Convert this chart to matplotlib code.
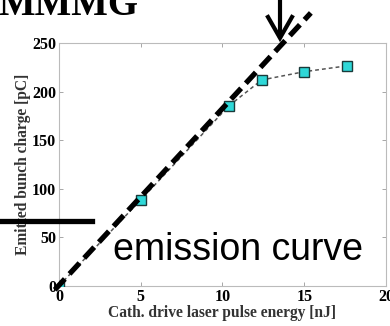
import numpy as np
import matplotlib.pyplot as plt

# measured points
energy = [0, 5.0, 10.4, 12.4, 15.0, 17.6]
charge = [0, 88.5, 185.5, 212, 220.5, 226.5]

# linear emission guide (extends past the frame)
guide_x = [-0.25, 15.4]
guide_y = [-4, 281]

xticks = [0, 5, 10, 15, 20]
yticks = [0, 50, 100, 150, 200, 250]

plt.rcParams['font.family'] = ['Liberation Serif', 'DejaVu Serif']

fig = plt.figure(figsize=(3.9, 3.26), dpi=100)
ax = fig.add_axes([0.151, 0.123, 0.839, 0.745])

ax.plot(energy, charge, linestyle=(0, (2.5, 2)), color='#555555', lw=1.1,
        marker='s', markersize=6.5, markerfacecolor='#2ed8d8',
        markeredgecolor='#1a3a3a', markeredgewidth=1.0, zorder=3)

ax.plot(guide_x, guide_y, color='black', lw=3.8, dashes=(2.8, 1.3),
        clip_on=False, zorder=4)

ax.set_xlim(0, 20)
ax.set_ylim(0, 250)
ax.set_xticks(xticks)
ax.set_yticks(yticks)
ax.tick_params(direction='in', length=3, width=0.6, color='#999999',
               top=True, right=True, labelsize=11.5, pad=2)
for lab in ax.get_xticklabels() + ax.get_yticklabels():
    lab.set_fontweight('bold')
for s in ax.spines.values():
    s.set_color('#bbbbbb')
    s.set_linewidth(0.8)

ax.set_xlabel('Cath. drive laser pulse energy [nJ]', fontsize=11.2,
              fontweight='bold', color='#333333', labelpad=0)
ax.set_ylabel('Emitted bunch charge [pC]', fontsize=11.2,
              fontweight='bold', color='#333333', labelpad=1)

ax.text(0.165, 0.105, 'emission curve', transform=ax.transAxes,
        fontsize=27, family='Liberation Sans', color='black')

# cropped title at top-left
fig.text(-0.005, 0.955, 'MMMG', fontsize=28, fontweight='bold',
         va='baseline', ha='left')

# horizontal marker bar on the left
fig.add_artist(plt.Line2D([0, 92 / 390], [0.323, 0.323], color='black', lw=3.8))

# arrow pointing down at the guide line
fig.add_artist(plt.Line2D([280 / 390, 280 / 390], [1.02, 1 - 36 / 326],
                          color='black', lw=3.0))
fig.add_artist(plt.Line2D([268 / 390, 280 / 390, 292 / 390],
                          [1 - 17 / 326, 1 - 38 / 326, 1 - 17 / 326],
                          color='black', lw=3.0, solid_joinstyle='miter'))

fig.savefig('out.png', dpi=100)
